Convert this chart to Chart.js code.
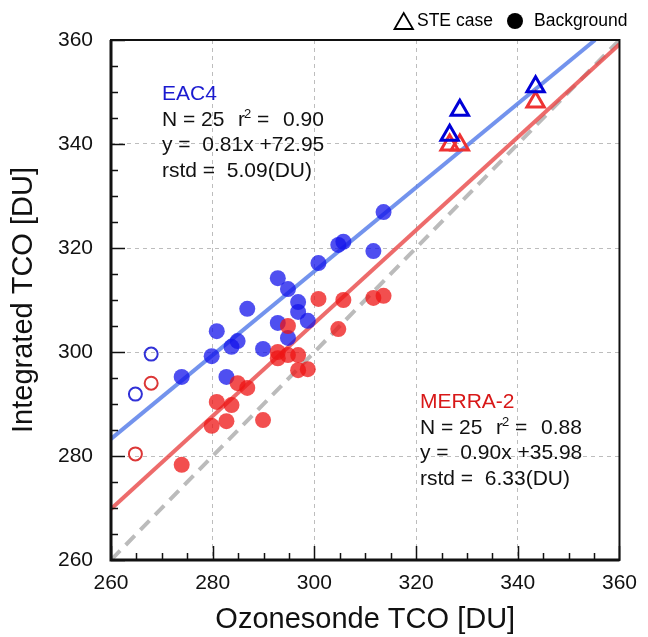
<!DOCTYPE html>
<html>
<head>
<meta charset="utf-8">
<script src="https://cdn.jsdelivr.net/npm/chart.js@4.4.1/dist/chart.umd.min.js"></script>
<style>
  html, body { margin: 0; padding: 0; background: #fff; }
  canvas { display: block; }
</style>
</head>
<body>
<canvas id="tcoChart" width="648" height="637"></canvas>
<script>
// ozonesonde TCO for background cases, with the matching reanalysis values
const sondeBg = [273.9, 279.8, 280.8, 282.7, 283.7, 284.9, 286.8, 289.9, 292.8, 292.8,
                 294.8, 294.8, 296.8, 296.8, 298.7, 300.8, 304.7, 305.7, 311.6, 313.6];
const eac4Bg  = [295.2, 299.2, 304.0, 295.2, 301.0, 302.1, 308.3, 300.6, 314.2, 305.6,
                 312.1, 302.7, 309.6, 307.7, 306.0, 317.1, 320.6, 321.2, 319.4, 326.9];
const merraBg = [278.3, 285.8, 290.4, 286.7, 289.8, 294.0, 293.1, 286.9, 300.0, 298.8,
                 305.0, 299.4, 299.4, 296.5, 296.7, 310.2, 304.4, 310.0, 310.4, 310.8];

// hollow circles
const sondeOpen = [264.8, 267.9];
const eac4Open  = [291.9, 299.6];
const merraOpen = [280.4, 294.0];

// STE cases (triangles)
const sondeSte = [326.6, 328.6, 343.5];
const eac4Ste  = [341.7, 346.5, 351.0];
const merraSte = [339.8, 339.8, 348.1];

// fit lines and 1:1 line (end points)
const eac4FitX  = [260, 355.2];
const eac4FitY  = [283.3, 360];
const merraFitX = [260, 360];
const merraFitY = [269.8, 359.2];
const unityLine = [260, 360];

const axisTicks = [260, 280, 300, 320, 340, 360];

const eac4Stats  = { name: 'EAC4', n: 'N = 25', r2: '0.90', eq: 'y =  0.81x +72.95', rstd: 'rstd =  5.09(DU)' };
const merraStats = { name: 'MERRA-2', n: 'N = 25', r2: '0.88', eq: 'y =  0.90x +35.98', rstd: 'rstd =  6.33(DU)' };

const FONT = '"Liberation Sans", Arial, Helvetica, sans-serif';

function pts(xs, ys) {
    return xs.map((x, i) => ({ x: x, y: ys[i] }));
}

// inward tick marks, frame, stats text and the little legend
const decorations = {
    id: 'decorations',
    afterDatasetsDraw(chart) {
        const ctx = chart.ctx;
        const a = chart.chartArea;
        const xs = chart.scales.x, ys = chart.scales.y;
        ctx.save();
        ctx.strokeStyle = '#111';
        ctx.lineWidth = 1.5;
        for (let v = 260; v <= 360; v += 5) {
            const len = v % 20 === 0 ? 14 : 7;
            const px = Math.round(xs.getPixelForValue(v)) + 0.5;
            const py = Math.round(ys.getPixelForValue(v)) + 0.5;
            ctx.beginPath();
            ctx.moveTo(px, a.bottom); ctx.lineTo(px, a.bottom - len);
            ctx.moveTo(a.left, py); ctx.lineTo(a.left + len, py);
            ctx.stroke();
        }
        ctx.lineWidth = 2;
        ctx.strokeRect(a.left, a.top, a.right - a.left, a.bottom - a.top);
        ctx.lineWidth = 3;
        ctx.beginPath();
        ctx.moveTo(a.left, a.top); ctx.lineTo(a.left, a.bottom); ctx.lineTo(a.right, a.bottom);
        ctx.stroke();

        function statsBlock(s, color, x, y0) {
            ctx.textBaseline = 'alphabetic';
            ctx.textAlign = 'left';
            ctx.font = '21px ' + FONT;
            ctx.fillStyle = color;
            ctx.fillText(s.name, x, y0);
            ctx.fillStyle = '#111';
            const y1 = y0 + 26;
            ctx.fillText(s.n, x, y1);
            ctx.fillText('r', x + 76, y1);
            ctx.fillText('=', x + 95, y1);
            ctx.fillText(s.r2, x + 121, y1);
            ctx.font = '13px ' + FONT;
            ctx.fillText('2', x + 82, y1 - 8);
            ctx.font = '21px ' + FONT;
            ctx.fillText(s.eq, x, y0 + 51);
            ctx.fillText(s.rstd, x, y0 + 77);
        }
        statsBlock(eac4Stats, '#1a1ad0', 162, 100);
        statsBlock(merraStats, '#d81818', 420, 408);

        // legend
        ctx.strokeStyle = '#000';
        ctx.lineWidth = 1.8;
        ctx.beginPath();
        ctx.moveTo(394.5, 29); ctx.lineTo(413, 29); ctx.lineTo(403.7, 13); ctx.closePath();
        ctx.stroke();
        ctx.fillStyle = '#000';
        ctx.font = '17.5px ' + FONT;
        ctx.textBaseline = 'middle';
        ctx.fillText('STE case', 417, 21);
        ctx.beginPath();
        ctx.arc(515, 21, 8, 0, Math.PI * 2);
        ctx.fill();
        ctx.fillText('Background', 534, 21);
        ctx.restore();
    }
};

function axisOptions(title, isX) {
    return {
        type: 'linear',
        min: 260,
        max: 360,
        afterBuildTicks(scale) {
            scale.ticks = axisTicks.map(v => ({ value: v }));
        },
        afterFit(scale) {
            if (isX) scale.height = 77; else scale.width = 111;
        },
        ticks: {
            color: '#111',
            font: { family: FONT, size: 21 },
            padding: isX ? 11 : 18,
            autoSkip: false,
            maxRotation: 0
        },
        grid: {
            drawTicks: false,
            lineWidth: 1,
            color: c => (c.tick && c.tick.value > 260 && c.tick.value < 360) ? '#bdbdbd' : 'rgba(0,0,0,0)'
        },
        border: { display: false, dash: [4, 4] },
        title: {
            display: true,
            text: title,
            color: '#111',
            font: { family: FONT, size: 29 },
            padding: isX ? { top: 0, bottom: 0 } : { top: 7, bottom: 0 }
        }
    };
}

const ctxTco = document.getElementById('tcoChart').getContext('2d');
const tcoChart = new Chart(ctxTco, {
    type: 'scatter',
    data: {
        datasets: [
            {
                label: '1:1',
                data: pts(unityLine, unityLine),
                showLine: true,
                borderColor: '#bbbbbb',
                borderWidth: 4,
                borderDash: [13, 8],
                pointRadius: 0,
                order: 12
            },
            {
                label: 'EAC4 fit',
                data: pts(eac4FitX, eac4FitY),
                showLine: true,
                borderColor: 'rgba(80,120,232,0.8)',
                borderWidth: 4,
                pointRadius: 0,
                order: 11
            },
            {
                label: 'MERRA-2 fit',
                data: pts(merraFitX, merraFitY),
                showLine: true,
                borderColor: 'rgba(232,70,70,0.8)',
                borderWidth: 4,
                pointRadius: 0,
                order: 10
            },
            {
                label: 'EAC4 background',
                data: pts(sondeBg, eac4Bg),
                pointRadius: 8,
                pointBorderWidth: 0,
                backgroundColor: 'rgba(20,20,235,0.75)',
                borderColor: 'rgba(20,20,235,0)',
                order: 6
            },
            {
                label: 'MERRA-2 background',
                data: pts(sondeBg, merraBg),
                pointRadius: 8,
                pointBorderWidth: 0,
                backgroundColor: 'rgba(238,20,20,0.75)',
                borderColor: 'rgba(238,20,20,0)',
                order: 5
            },
            {
                label: 'EAC4 open',
                data: pts(sondeOpen, eac4Open),
                pointRadius: 6.5,
                pointBorderWidth: 2,
                backgroundColor: 'rgba(0,0,0,0)',
                borderColor: 'rgb(50,50,215)',
                order: 4
            },
            {
                label: 'MERRA-2 open',
                data: pts(sondeOpen, merraOpen),
                pointRadius: 6.5,
                pointBorderWidth: 2,
                backgroundColor: 'rgba(0,0,0,0)',
                borderColor: 'rgb(220,55,55)',
                order: 3
            },
            {
                label: 'EAC4 STE',
                data: pts(sondeSte, eac4Ste),
                pointStyle: 'triangle',
                pointRadius: 10,
                pointBorderWidth: 3,
                backgroundColor: 'rgba(0,0,0,0)',
                borderColor: 'rgb(0,0,215)',
                order: 1
            },
            {
                label: 'MERRA-2 STE',
                data: pts(sondeSte, merraSte),
                pointStyle: 'triangle',
                pointRadius: 10,
                pointBorderWidth: 3,
                backgroundColor: 'rgba(0,0,0,0)',
                borderColor: 'rgb(238,50,50)',
                order: 2
            }
        ]
    },
    options: {
        responsive: false,
        animation: false,
        layout: { padding: { top: 40, right: 18, left: 0, bottom: 0 } },
        scales: {
            x: axisOptions('Ozonesonde TCO [DU]', true),
            y: axisOptions('Integrated TCO [DU]', false)
        },
        plugins: {
            legend: { display: false },
            tooltip: { enabled: false }
        }
    },
    plugins: [decorations]
});
</script>
</body>
</html>
